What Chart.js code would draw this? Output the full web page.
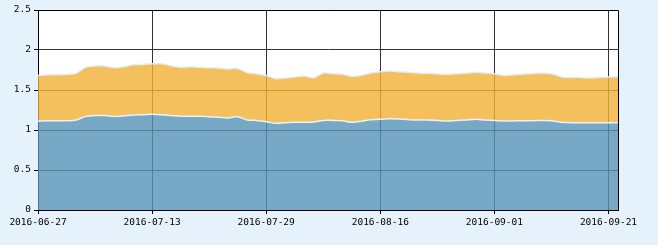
<!DOCTYPE html>
<html>
<head>
<meta charset="utf-8">
<script src="https://cdn.jsdelivr.net/npm/chart.js@4.4.1/dist/chart.umd.min.js"></script>
<style>
    html, body { margin: 0; padding: 0; background: #E6F2FB; }
    #wrap { width: 658px; height: 245px; position: relative; }
</style>
</head>
<body>
<div id="wrap"><canvas id="nav"></canvas></div>
<script>
const dates = [
    '2016-06-27','2016-06-28','2016-06-29','2016-06-30','2016-07-01',
    '2016-07-04','2016-07-05','2016-07-06','2016-07-07','2016-07-08',
    '2016-07-11','2016-07-12','2016-07-13','2016-07-14','2016-07-15',
    '2016-07-18','2016-07-19','2016-07-20','2016-07-21','2016-07-22',
    '2016-07-25','2016-07-26','2016-07-27','2016-07-28','2016-07-29',
    '2016-08-01','2016-08-02','2016-08-03','2016-08-04','2016-08-05',
    '2016-08-08','2016-08-09','2016-08-10','2016-08-11','2016-08-12',
    '2016-08-15','2016-08-16','2016-08-17','2016-08-18','2016-08-19',
    '2016-08-22','2016-08-23','2016-08-24','2016-08-25','2016-08-26',
    '2016-08-29','2016-08-30','2016-08-31','2016-09-01','2016-09-02',
    '2016-09-05','2016-09-06','2016-09-07','2016-09-08','2016-09-09',
    '2016-09-12','2016-09-13','2016-09-14','2016-09-19','2016-09-20',
    '2016-09-21','2016-09-22'
];

// blue area
const unitNav = [
    1.11, 1.115, 1.115, 1.115, 1.125, 1.17, 1.18, 1.18, 1.17, 1.175, 1.188, 1.19, 1.196,
    1.19, 1.18, 1.171, 1.171, 1.171, 1.167, 1.158, 1.15, 1.167, 1.125, 1.12, 1.104,
    1.083, 1.092, 1.096, 1.096, 1.10, 1.12, 1.12, 1.117, 1.096, 1.108, 1.129, 1.133,
    1.142, 1.138, 1.129, 1.125, 1.125, 1.12, 1.113, 1.12, 1.125, 1.133, 1.125, 1.12,
    1.113, 1.113, 1.117, 1.117, 1.12, 1.117, 1.096, 1.092, 1.092, 1.092, 1.092, 1.092, 1.092
];

// orange area (top edge)
const totalNav = [
    1.68, 1.69, 1.695, 1.695, 1.708, 1.783, 1.80, 1.80, 1.779, 1.79, 1.816, 1.82, 1.829,
    1.829, 1.804, 1.783, 1.79, 1.783, 1.779, 1.775, 1.763, 1.77, 1.717, 1.704, 1.681,
    1.642, 1.65, 1.663, 1.675, 1.654, 1.713, 1.704, 1.70, 1.671, 1.683, 1.713, 1.727,
    1.738, 1.729, 1.721, 1.713, 1.708, 1.704, 1.696, 1.704, 1.708, 1.721, 1.713, 1.704,
    1.683, 1.691, 1.70, 1.704, 1.713, 1.704, 1.667, 1.658, 1.658, 1.65, 1.658, 1.663, 1.665
];

const labelEvery = 12;
const tickFont = { family: '"DejaVu Sans Mono", "Liberation Mono", monospace', size: 9.5 };

// white plot area and the black frame on top / right
const frame = {
    id: 'frame',
    beforeDraw: (chart) => {
        const { ctx, chartArea: a } = chart;
        ctx.save();
        ctx.fillStyle = '#fff';
        ctx.fillRect(a.left, a.top, a.right - a.left, a.bottom - a.top);
        ctx.restore();
    },
    afterDraw: (chart) => {
        const { ctx, chartArea: a } = chart;
        ctx.save();
        ctx.strokeStyle = '#000';
        ctx.lineWidth = 1;
        ctx.beginPath();
        ctx.moveTo(Math.round(a.left) + 0.5, Math.round(a.top) + 0.5);
        ctx.lineTo(Math.round(a.right) + 0.5, Math.round(a.top) + 0.5);
        ctx.lineTo(Math.round(a.right) + 0.5, Math.round(a.bottom) + 0.5);
        ctx.stroke();
        ctx.restore();
    }
};

new Chart('nav', {
    type: 'line',
    data: {
        labels: dates,
        datasets: [
            {
                label: '单位净值',
                data: unitNav,
                fill: 'origin',
                backgroundColor: 'rgba(85,148,185,0.8)',
                borderColor: 'rgba(235,245,252,0.95)',
                borderWidth: 1.5,
                tension: 0.3,
                pointRadius: 0
            },
            {
                label: '累计净值',
                data: totalNav,
                fill: 0,
                backgroundColor: 'rgba(241,176,54,0.8)',
                borderColor: 'rgba(225,238,250,0.95)',
                borderWidth: 1.5,
                tension: 0.3,
                pointRadius: 0
            }
        ]
    },
    options: {
        responsive: true,
        maintainAspectRatio: false,
        animation: false,
        layout: { padding: { top: 10, right: 40, left: 0, bottom: 0 } },
        plugins: {
            legend: { display: false },
            tooltip: { enabled: false }
        },
        scales: {
            x: {
                offset: false,
                afterFit: (s) => { s.height = 35; },
                grid: { color: '#333', lineWidth: 1, tickLength: 4, tickColor: '#000' },
                border: { color: '#000', width: 1 },
                ticks: {
                    autoSkip: false,
                    maxRotation: 0,
                    padding: 3,
                    color: '#000',
                    font: tickFont,
                    callback: function (value, index) {
                        return index % labelEvery === 0 ? this.getLabelForValue(value) : null;
                    }
                }
            },
            y: {
                min: 0,
                max: 2.5,
                afterFit: (s) => { s.width = 38; },
                grid: { color: '#333', lineWidth: 1, tickLength: 4, tickColor: '#000' },
                border: { color: '#000', width: 1 },
                ticks: {
                    stepSize: 0.5,
                    padding: 3,
                    color: '#000',
                    font: tickFont,
                    callback: (value) => String(Number(value.toFixed(1)))
                }
            }
        }
    },
    plugins: [frame]
});
</script>
</body>
</html>
